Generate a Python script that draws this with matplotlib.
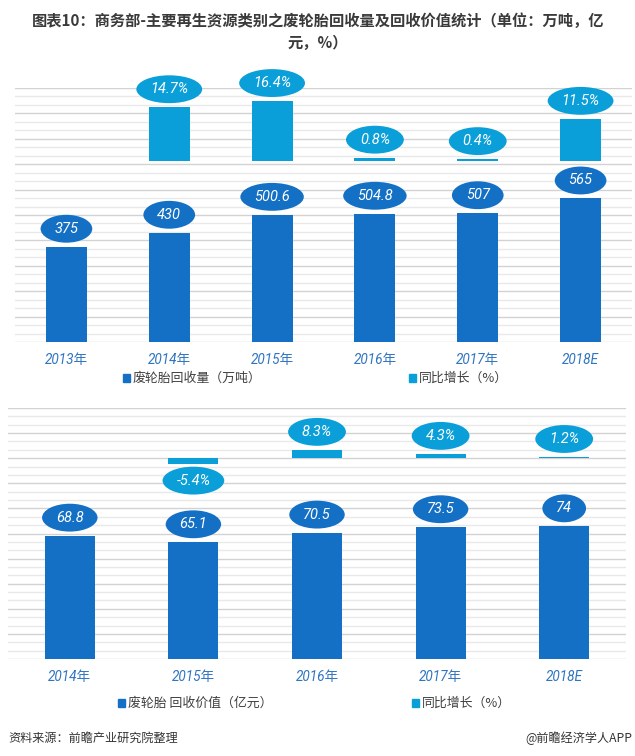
import numpy as np
import matplotlib
matplotlib.use('Agg')
import matplotlib.pyplot as plt
from matplotlib.path import Path
from matplotlib.transforms import Affine2D
from matplotlib.patches import Rectangle

# ---------------- data ----------------
years_top = ['2013年', '2014年', '2015年', '2016年', '2017年', '2018E']
volume = [375, 430, 500.6, 504.8, 507, 565]
volume_growth = [None, 14.7, 16.4, 0.8, 0.4, 11.5]

years_bottom = ['2014年', '2015年', '2016年', '2017年', '2018E']
value = [68.8, 65.1, 70.5, 73.5, 74]
value_growth = [None, -5.4, 8.3, 4.3, 1.2]

title = '图表10：商务部-主要再生资源类别之废轮胎回收量及回收价值统计（单位：万吨，亿\n元，%）'
legend_top = ['废轮胎回收量（万吨）', '同比增长（%）']
legend_bottom = ['废轮胎 回收价值（亿元）', '同比增长（%）']
source = '资料来源：前瞻产业研究院整理'
credit = '@前瞻经济学人APP'

# ---------------- style ----------------
DARK = '#1470C4'
LIGHT = '#0A9FD8'
TICKC = '#2F74C0'
TEXTC = '#3A3A3A'
W, H = 635, 756
NUM_FONT = ['Roboto', 'DejaVu Sans']
CJK = ['Noto Sans CJK SC', 'DejaVu Sans']
TICK_FONT = ['Roboto', 'Noto Sans CJK SC', 'DejaVu Sans']

plt.rcParams['font.family'] = CJK

fig = plt.figure(figsize=(W / 100, H / 100), dpi=100)
fig.patch.set_facecolor('white')


def ax_px(l, t, r, b):
    return fig.add_axes([l / W, 1 - b / H, (r - l) / W, (b - t) / H])


def flat_ellipse(x0, y0, width, height, mutation_size):
    w = width + 1.9 * mutation_size
    h = height + 0.95 * mutation_size
    cx, cy = x0 + width / 2, y0 + height / 2
    return Affine2D().scale(w / 2, h / 2).translate(cx, cy).transform_path(Path.unit_circle())


def label(ax, x, y, txt, color, off):
    ax.annotate(txt, xy=(x, y), xytext=(0, off), textcoords='offset pixels',
                ha='center', va='center', color='white', fontsize=10.5,
                family=NUM_FONT, style='italic', zorder=10,
                bbox=dict(boxstyle=flat_ellipse, fc=color, ec='none'))


def style_axes(ax, ymax, step, n):
    ax.set_xlim(-0.5, n - 0.5)
    ax.set_ylim(0, ymax)
    ax.set_yticks(np.arange(0, ymax + 1e-6, step))
    ax.set_yticks(np.arange(0, ymax + 1e-6, step / 3), minor=True)
    ax.grid(which='major', axis='y', color='#d2d2d2', lw=1.0)
    ax.grid(which='minor', axis='y', color='#e9e9e9', lw=1.0)
    ax.set_axisbelow(True)
    ax.tick_params(axis='y', which='both', length=0, labelleft=False)
    ax.tick_params(axis='x', length=0, pad=8)
    for s in ax.spines.values():
        s.set_visible(False)


def panel(ax, cats, vals, growth, ymax, step, glim, bw, fmt_val):
    n = len(cats)
    style_axes(ax, ymax, step, n)
    x = np.arange(n)
    ax.bar(x, vals, width=bw, color=DARK, zorder=3)
    ax.set_xticks(x)
    ax.set_xticklabels(cats, color=TICKC, fontsize=9.8, family=TICK_FONT, style='italic')
    for i, v in enumerate(vals):
        label(ax, i, v, fmt_val(v), DARK, 18)
    ax2 = ax.twinx()
    ax2.set_ylim(*glim)
    ax2.set_yticks([])
    for s in ax2.spines.values():
        s.set_visible(False)
    gx = [i for i, g in enumerate(growth) if g is not None]
    gv = [g for g in growth if g is not None]
    ax2.bar(gx, gv, width=bw, color=LIGHT, zorder=3)
    for i, g in zip(gx, gv):
        label(ax2, i, g, f'{g}%', LIGHT, 18 if g >= 0 else -17)
    return ax2


def fmt(v):
    return f'{v:g}'


ax_top = ax_px(15, 88, 632, 342)
panel(ax_top, years_top, volume, volume_growth, 1000, 100, (-50, 20), 0.4, fmt)

ax_bot = ax_px(8, 408, 626, 659)
panel(ax_bot, years_bottom, value, value_growth, 140, 14, (-200, 50), 0.405, fmt)

# ---------------- title ----------------
fig.text(318 / W, 1 - 32 / H, title, ha='center', va='center', fontsize=11,
         fontweight='bold', color=TEXTC, family=CJK, linespacing=1.45)


# ---------------- legends ----------------
def legend_item(sx, sy, txt, color):
    fig.add_artist(Rectangle(((sx - 3.5) / W, 1 - (sy + 4) / H), 7 / W, 8 / H,
                             transform=fig.transFigure, color=color))
    fig.text((sx + 6.5) / W, 1 - sy / H, txt, ha='left', va='center', fontsize=9.3,
             color='#404040', family=CJK)


legend_item(126.5, 378, legend_top[0], DARK)
legend_item(412, 378, legend_top[1], LIGHT)
legend_item(121.5, 703, legend_bottom[0], DARK)
legend_item(415, 703, legend_bottom[1], LIGHT)

# ---------------- footer ----------------
fig.text(8 / W, 1 - 738 / H, source, ha='left', va='center', fontsize=8.7,
         color='#333333', family=CJK, style='italic')
fig.text(632 / W, 1 - 738 / H, credit, ha='right', va='center', fontsize=8.7,
         color='#333333', family=CJK)

fig.savefig('out.png', dpi=100, facecolor='white')
